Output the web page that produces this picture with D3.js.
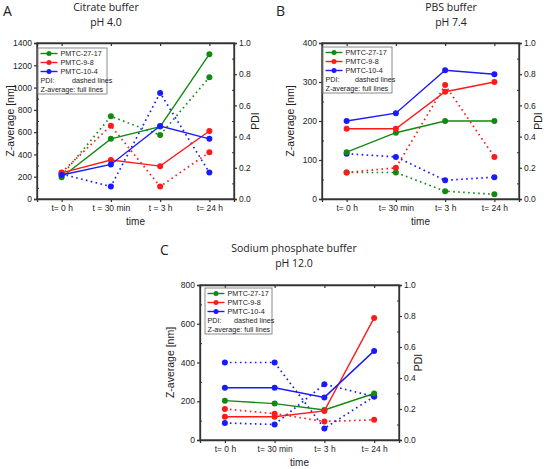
<!DOCTYPE html>
<head>
    <meta charset="utf-8">
    <script src="https://d3js.org/d3.v7.min.js"></script>
    <style>
        body { margin: 0; background: #fff; }
        text { font-family: "Liberation Sans", Arial, sans-serif; fill: #222; }
        .title { font-family: "Open Sans", sans-serif; font-size: 10.5px; }
        .panel-letter { font-family: "Open Sans", sans-serif; font-size: 14px; }
    </style>
</head>
<body>
    <svg width="546" height="469"></svg>
    <script>
        // time points (tick labels differ slightly in panel A)
        var timesA = ["t= 0 h", "t = 30 min", "t = 3 h", "t= 24 h"];
        var times = ["t= 0 h", "t= 30 min", "t= 3 h", "t= 24 h"];
        var sampleNames = ["PMTC-27-17", "PMTC-9-8", "PMTC-10-4"];

        // A: citrate buffer pH 4.0
        var citrateZ27 = [195, 540, 650, 1300];
        var citrateZ98 = [235, 350, 295, 610];
        var citrateZ104 = [215, 310, 655, 540];
        var citratePdi27 = [0.15, 0.53, 0.41, 0.78];
        var citratePdi98 = [0.17, 0.47, 0.08, 0.30];
        var citratePdi104 = [0.16, 0.08, 0.68, 0.17];

        // B: PBS buffer pH 7.4
        var pbsZ27 = [120, 170, 200, 200];
        var pbsZ98 = [180, 180, 275, 300];
        var pbsZ104 = [200, 220, 330, 320];
        var pbsPdi27 = [0.17, 0.17, 0.05, 0.03];
        var pbsPdi98 = [0.17, 0.20, 0.73, 0.27];
        var pbsPdi104 = [0.29, 0.27, 0.12, 0.14];

        // C: sodium phosphate buffer pH 12.0 (two blue PDI traces in the original)
        var naZ27 = [203, 188, 155, 240];
        var naZ98 = [120, 120, 150, 630];
        var naZ104 = [270, 270, 220, 460];
        var naPdi98 = [0.20, 0.17, 0.12, 0.13];
        var naPdi104 = [0.50, 0.50, 0.075, 0.28];
        var naPdi104b = [0.11, 0.10, 0.36, 0.28];

        var colors = ["#128a12", "#ff1a1a", "#1a1aff"];

        var svg = d3.select("svg");

        function drawPanel(cfg) {
            var w = cfg.x1 - cfg.x0, h = cfg.y1 - cfg.y0;
            var g = svg.append("g").attr("transform", "translate(" + cfg.x0 + "," + cfg.y0 + ")");

            var x = d3.scalePoint().domain(cfg.labels).range([0, w]).padding(0.5);
            var yZ = d3.scaleLinear().domain([0, cfg.zMax]).range([h, 0]);
            var yP = d3.scaleLinear().domain([0, 1]).range([h, 0]);

            // frame
            g.append("rect").attr("width", w).attr("height", h)
                .attr("fill", "none").attr("stroke", "#333").attr("stroke-width", 1.3);

            // minor ticks
            g.append("g").attr("class", "minor")
                .call(d3.axisLeft(yZ).tickValues(d3.range(cfg.zStep / 2, cfg.zMax, cfg.zStep)).tickSize(-2).tickFormat(""));
            g.append("g").attr("class", "minor").attr("transform", "translate(" + w + ",0)")
                .call(d3.axisRight(yP).tickValues(d3.range(0.1, 1, 0.2)).tickSize(-2).tickFormat(""));

            // major axes
            var axL = g.append("g")
                .call(d3.axisLeft(yZ).tickValues(d3.range(0, cfg.zMax + 1, cfg.zStep)).tickSize(3).tickPadding(2).tickFormat(d3.format("d")));
            var axR = g.append("g").attr("transform", "translate(" + w + ",0)")
                .call(d3.axisRight(yP).tickValues(d3.range(0, 1.01, 0.2)).tickSize(3).tickPadding(2).tickFormat(d3.format(".1f")));
            var axB = g.append("g").attr("transform", "translate(0," + h + ")")
                .call(d3.axisBottom(x).tickSize(3).tickPadding(3));
            var axT = g.append("g")
                .call(d3.axisTop(x).tickSize(-3).tickFormat(""));
            [axL, axR, axB, axT].forEach(function (a) {
                a.select(".domain").attr("stroke", "#333").attr("stroke-width", 1.3);
                a.selectAll(".tick line").attr("stroke", "#333").attr("stroke-width", 1.2);
                a.selectAll("text").attr("font-size", "8.5px").attr("fill", "#222");
            });
            g.selectAll(".minor .domain").remove();
            g.selectAll("g .tick line").attr("stroke", "#333");

            // axis titles
            g.append("text").attr("transform", "translate(" + cfg.zLabelX + "," + (h / 2) + ") rotate(-90)")
                .attr("text-anchor", "middle").attr("font-size", "10.5px").text("Z-average [nm]");
            g.append("text").attr("transform", "translate(" + (w + cfg.pLabelDx) + "," + (h / 2) + ") rotate(-90)")
                .attr("text-anchor", "middle").attr("font-size", "10.5px").text("PDI");
            g.append("text").attr("x", w / 2).attr("y", h + cfg.timeDy)
                .attr("text-anchor", "middle").attr("font-size", "10px").text("time");

            var lineZ = d3.line().x(function (d, i) { return x(cfg.labels[i]); }).y(function (d) { return yZ(d); });
            var lineP = d3.line().x(function (d, i) { return x(cfg.labels[i]); }).y(function (d) { return yP(d); });

            // PDI dashed (dotted) lines
            cfg.pdi.forEach(function (s) {
                g.append("path").datum(s.values).attr("d", lineP)
                    .attr("fill", "none").attr("stroke", colors[s.c]).attr("stroke-width", 1.7)
                    .attr("stroke-dasharray", "1.6 3.4");
                g.selectAll(null).data(s.values).enter().append("circle")
                    .attr("cx", function (d, i) { return x(cfg.labels[i]); })
                    .attr("cy", function (d) { return yP(d); })
                    .attr("r", 3).attr("fill", colors[s.c]);
            });
            // Z-average full lines
            cfg.z.forEach(function (s) {
                g.append("path").datum(s.values).attr("d", lineZ)
                    .attr("fill", "none").attr("stroke", colors[s.c]).attr("stroke-width", 1.4);
                g.selectAll(null).data(s.values).enter().append("circle")
                    .attr("cx", function (d, i) { return x(cfg.labels[i]); })
                    .attr("cy", function (d) { return yZ(d); })
                    .attr("r", 3).attr("fill", colors[s.c]);
            });

            // legend
            var lg = g.append("g").attr("transform", "translate(" + cfg.legX + "," + cfg.legY + ")");
            lg.append("rect").attr("width", cfg.legW).attr("height", 46)
                .attr("fill", "#fff").attr("stroke", "#8a8a8a").attr("stroke-width", 1);
            sampleNames.forEach(function (n, i) {
                var yy = 5.5 + i * 9;
                lg.append("line").attr("x1", 2.5).attr("x2", 19.5).attr("y1", yy).attr("y2", yy)
                    .attr("stroke", colors[i]).attr("stroke-width", 1.4);
                lg.append("circle").attr("cx", 11).attr("cy", yy).attr("r", 2.5).attr("fill", colors[i]);
                lg.append("text").attr("x", 22.5).attr("y", yy + 2.6).attr("font-size", "7.2px").text(n);
            });
            lg.append("text").attr("x", 2.5).attr("y", 5.5 + 3 * 9 + 2.6).attr("font-size", "7.2px").text("PDI:");
            lg.append("text").attr("x", cfg.dashX).attr("y", 5.5 + 3 * 9 + 2.6).attr("font-size", "7.2px").text("dashed lines");
            lg.append("text").attr("x", 2.5).attr("y", 5.5 + 4 * 9 + 2.6).attr("font-size", "7.2px").text("Z-average: full lines");

            // titles
            svg.append("text").attr("class", "panel-letter").attr("x", cfg.letterX).attr("y", cfg.letterY).text(cfg.letter);
            svg.append("text").attr("class", "title").attr("text-anchor", "middle")
                .attr("x", cfg.titleX).attr("y", cfg.titleY).text(cfg.title1);
            svg.append("text").attr("class", "title").attr("text-anchor", "middle")
                .attr("x", cfg.titleX).attr("y", cfg.titleY + 15).text(cfg.title2);
        }

        drawPanel({
            x0: 37, x1: 234, y0: 43, y1: 199, zMax: 1400, zStep: 200, labels: timesA,
            zLabelX: -23, pLabelDx: 25, timeDy: 26,
            legX: 1, legY: 5, legW: 69, dashX: 34,
            letter: "A", letterX: 3, letterY: 16, title1: "Citrate buffer", title2: "pH 4.0", titleX: 106, titleY: 11,
            z: [{ values: citrateZ27, c: 0 }, { values: citrateZ98, c: 1 }, { values: citrateZ104, c: 2 }],
            pdi: [{ values: citratePdi27, c: 0 }, { values: citratePdi98, c: 1 }, { values: citratePdi104, c: 2 }]
        });

        drawPanel({
            x0: 322, x1: 519, y0: 43, y1: 199, zMax: 400, zStep: 100, labels: times,
            zLabelX: -28, pLabelDx: 23, timeDy: 26,
            legX: 1, legY: 4, legW: 69, dashX: 32,
            letter: "B", letterX: 276, letterY: 16, title1: "PBS buffer", title2: "pH 7.4", titleX: 451, titleY: 11,
            z: [{ values: pbsZ27, c: 0 }, { values: pbsZ98, c: 1 }, { values: pbsZ104, c: 2 }],
            pdi: [{ values: pbsPdi27, c: 0 }, { values: pbsPdi98, c: 1 }, { values: pbsPdi104, c: 2 }]
        });

        drawPanel({
            x0: 200, x1: 399, y0: 285, y1: 440, zMax: 800, zStep: 200, labels: times,
            zLabelX: -26, pLabelDx: 23, timeDy: 26,
            legX: 5, legY: 3, legW: 67, dashX: 29,
            letter: "C", letterX: 160, letterY: 255, title1: "Sodium phosphate buffer", title2: "pH 12.0", titleX: 294, titleY: 252,
            z: [{ values: naZ27, c: 0 }, { values: naZ98, c: 1 }, { values: naZ104, c: 2 }],
            pdi: [{ values: naPdi98, c: 1 }, { values: naPdi104, c: 2 }, { values: naPdi104b, c: 2 }]
        });
    </script>
</body>
